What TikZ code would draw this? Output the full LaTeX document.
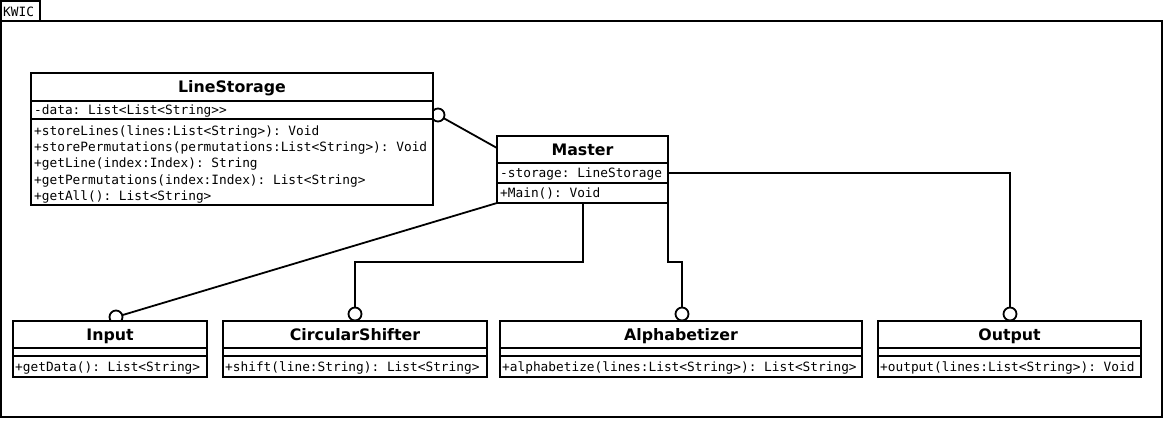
\documentclass[tikz,border=0pt]{standalone}
\usepackage{fontspec}
\newfontfamily\memfont{DejaVu Sans Mono}
\newfontfamily\ttlfam{DejaVu Sans}
\begin{document}
\frenchspacing
\begin{tikzpicture}[x=1pt,y=-1pt,
  lw/.style={line width=1.8pt},
  cls/.style={draw, lw, fill=white, anchor=north west, inner sep=0, outer sep=0},
  ttl/.style={font=\ttlfam\bfseries\fontsize{15.8}{19}\selectfont, inner sep=0, text height=11.5pt, text depth=0pt},
  mem/.style={font=\memfont\fontsize{12.8}{16}\selectfont\frenchspacing, inner sep=0, anchor=west, text height=9.3pt, text depth=0pt},
  conn/.style={lw},
  lolli/.style={circle, draw, lw, fill=white, minimum size=13pt, inner sep=0, outer sep=0}]
\useasboundingbox (0,0) rectangle (1166,420);
% frame
\draw[lw] (1,1) rectangle (40,21);
\node[mem] (kw) at (3,11.5) {KWIC};
\draw[lw] (1,21) rectangle (1162,417);

% lollipop circles
\node[lolli] (lsc) at (438,115) {};
\node[lolli] (inc) at (116,317) {};
\node[lolli] (csc) at (355,314) {};
\node[lolli] (alc) at (682,314) {};
\node[lolli] (opc) at (1010,314) {};

% LineStorage
\node[cls, minimum width=402pt, minimum height=132pt] (ls) at (31,73) {};
\node[ttl] (lst) at (232,87) {LineStorage};
\draw[lw] (ls.west |- 0,101) -- (ls.east |- 0,101);
\draw[lw] (ls.west |- 0,119) -- (ls.east |- 0,119);
\node[mem] (lsa) at (34,110) {-data: List<List<String>{}>};
\node[mem] (lsm1) at (34,130.5) {+storeLines(lines:List<String>): Void};
\node[mem] (lsm2) at (34,146.9) {+storePermutations(permutations:List<String>): Void};
\node[mem] (lsm3) at (34,163.3) {+getLine(index:Index): String};
\node[mem] (lsm4) at (34,179.7) {+getPermutations(index:Index): List<String>};
\node[mem] (lsm5) at (34,196.1) {+getAll(): List<String>};

% Master
\node[cls, minimum width=171pt, minimum height=67pt] (ms) at (497,136) {};
\node[ttl] (mst) at (582.5,149.5) {Master};
\draw[lw] (ms.west |- 0,163) -- (ms.east |- 0,163);
\draw[lw] (ms.west |- 0,183) -- (ms.east |- 0,183);
\node[mem] (msa) at (500,173) {-storage: LineStorage};
\node[mem] (msm) at (500,193) {+Main(): Void};

% Input
\node[cls, minimum width=194pt, minimum height=56pt] (inp) at (13,321) {};
\node[ttl] (inpt) at (110,334.5) {Input};
\draw[lw] (inp.west |- 0,348) -- (inp.east |- 0,348);
\draw[lw] (inp.west |- 0,356) -- (inp.east |- 0,356);
\node[mem] (inpm) at (15,366.5) {+getData(): List<String>};

% CircularShifter
\node[cls, minimum width=264pt, minimum height=56pt] (cs) at (223,321) {};
\node[ttl] (cst) at (355,334.5) {CircularShifter};
\draw[lw] (cs.west |- 0,348) -- (cs.east |- 0,348);
\draw[lw] (cs.west |- 0,356) -- (cs.east |- 0,356);
\node[mem] (csm) at (225,366.5) {+shift(line:String): List<String>};

% Alphabetizer
\node[cls, minimum width=362pt, minimum height=56pt] (al) at (500,321) {};
\node[ttl] (alt) at (681,334.5) {Alphabetizer};
\draw[lw] (al.west |- 0,348) -- (al.east |- 0,348);
\draw[lw] (al.west |- 0,356) -- (al.east |- 0,356);
\node[mem] (alm) at (502,366.5) {+alphabetize(lines:List<String>): List<String>};

% Output
\node[cls, minimum width=263pt, minimum height=56pt] (op) at (878,321) {};
\node[ttl] (opt) at (1009.5,334.5) {Output};
\draw[lw] (op.west |- 0,348) -- (op.east |- 0,348);
\draw[lw] (op.west |- 0,356) -- (op.east |- 0,356);
\node[mem] (opm) at (880,366.5) {+output(lines:List<String>): Void};

% connectors
\coordinate (mA) at (497,148);
\coordinate (mB) at (668,173);
\coordinate (mC) at (583,203);
\draw[conn] (lsc) -- (mA);
\draw[conn] (ms.south west) -- (inc);
\draw[conn] (mC) -- (583,262) -| (csc);
\draw[conn] (ms.south east) -- (668,262) -| (alc);
\draw[conn] (mB) -| (opc);
\end{tikzpicture}
\end{document}
